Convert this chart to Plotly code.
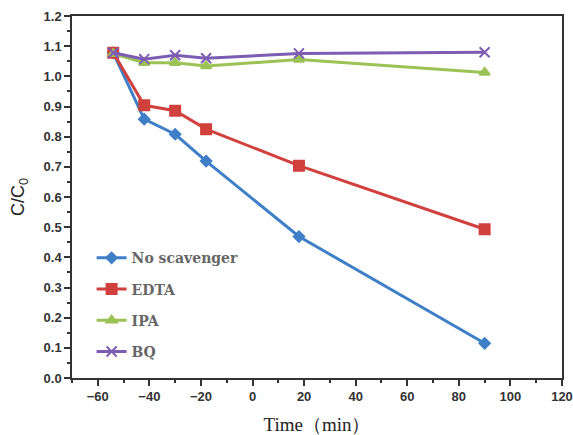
import plotly.graph_objects as go

time_min = [-54, -42, -30, -18, 18, 90]
no_scavenger = [1.078, 0.858, 0.808, 0.719, 0.469, 0.115]
edta = [1.078, 0.904, 0.886, 0.825, 0.704, 0.493]
ipa = [1.075, 1.045, 1.045, 1.034, 1.056, 1.013]
bq = [1.078, 1.057, 1.070, 1.060, 1.076, 1.080]

series = [
    ("No scavenger", no_scavenger, "#3f7fc8", "diamond", 8),
    ("EDTA", edta, "#d0403c", "square", 10),
    ("IPA", ipa, "#9bc254", "triangle-up", 9),
    ("BQ", bq, "#7d5cb3", "x-thin", 10),
]

fig = go.Figure()
for i, (name, vals, color, sym, size) in enumerate(series):
    fig.add_trace(go.Scatter(
        x=time_min, y=vals, name=name, mode="lines+markers",
        line=dict(color=color, width=3),
        marker=dict(symbol=sym, size=size, color=color,
                    line=dict(color=color, width=2)),
        legendgroup=f"g{i}",
    ))

axis_common = dict(
    showline=True, linecolor="#333", linewidth=1.5, mirror=True,
    ticks="outside", ticklen=6, tickwidth=1.5, tickcolor="#333",
    showgrid=False, zeroline=False, automargin=False,
    tickfont=dict(family="Liberation Sans, Arial", size=13, color="#333", weight="bold"),
)

fig.update_xaxes(range=[-70, 120], dtick=20, tick0=-60,
                 minor=dict(ticks="outside", ticklen=3, dtick=10, tickcolor="#333"),
                 title=dict(text="Time（min）",
                            font=dict(family="Liberation Serif, Times New Roman", size=19, color="#222"),
                            standoff=18),
                 **axis_common)
fig.update_yaxes(range=[0, 1.2], dtick=0.1, tickformat=".1f",
                 minor=dict(ticks="outside", ticklen=3, dtick=0.05, tickcolor="#333"),
                 title=dict(text="C/C<sub>0</sub>",
                            font=dict(family="Liberation Sans, Arial", size=18, color="#222"),
                            standoff=14),
                 **axis_common)

fig.update_layout(
    width=573, height=435,
    margin=dict(l=72, r=11, t=16, b=57),
    paper_bgcolor="white", plot_bgcolor="white",
    legend=dict(x=0.04, y=0.375, xanchor="left", yanchor="top",
                bgcolor="rgba(0,0,0,0)", tracegroupgap=10,
                font=dict(family="DejaVu Serif, Liberation Serif", size=14,
                          color="#666", weight="bold")),
    showlegend=True,
)

fig.write_html("out.html")
